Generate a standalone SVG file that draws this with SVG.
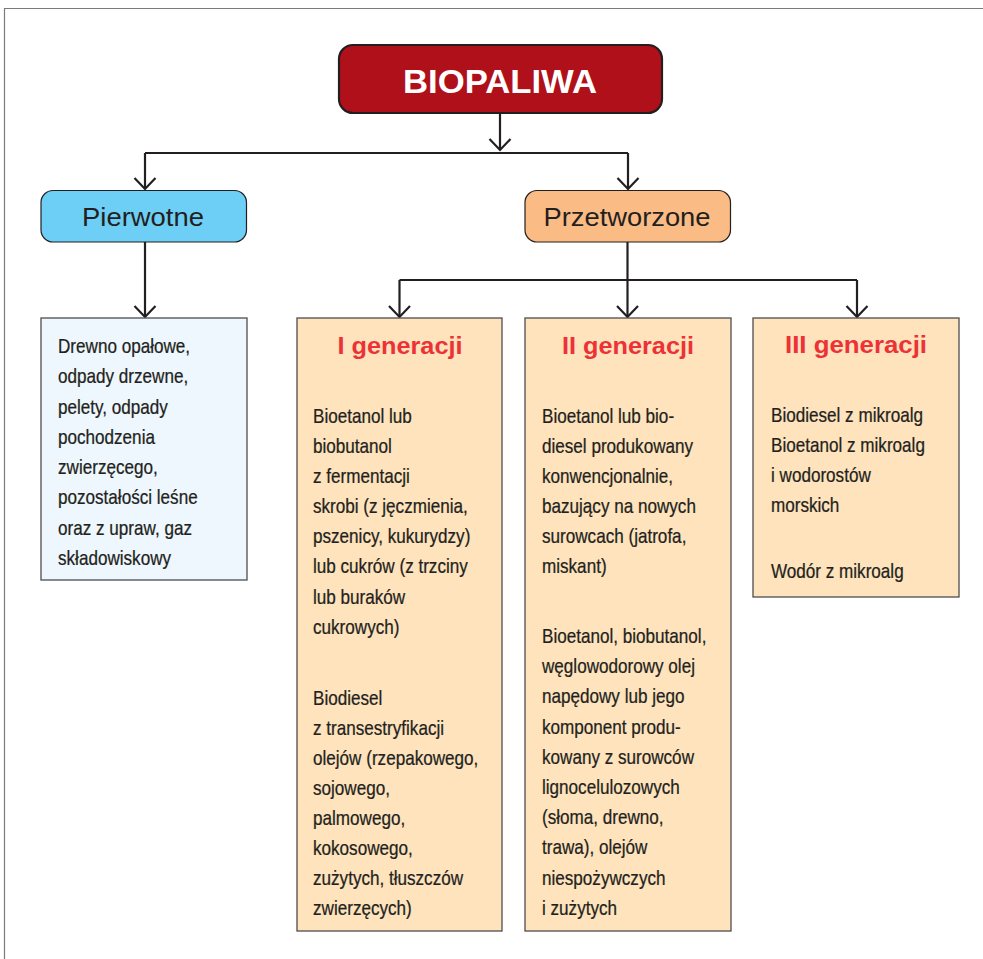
<svg xmlns="http://www.w3.org/2000/svg" width="983" height="959" viewBox="0 0 983 959">
<style>
.t{font-family:"Liberation Sans",Arial,sans-serif;font-size:20.6px;fill:#231f20;stroke:#231f20;stroke-width:0.25}
.h{font-family:"Liberation Sans",Arial,sans-serif;font-size:23px;font-weight:bold;fill:#ed3237;text-anchor:middle}
.gen{fill:#fee3bc;stroke:#4d4d4f;stroke-width:1.3}
.c{fill:none;stroke:#231f20;stroke-width:2.2}
</style>
<defs>
<marker id="arr" markerUnits="userSpaceOnUse" markerWidth="30" markerHeight="30" viewBox="-15 -15 30 30" refX="0" refY="0" orient="auto" overflow="visible">
<path d="M-11,-10.5 L0,0 L-11,10.5" fill="none" stroke="#231f20" stroke-width="2.2"/>
</marker>
</defs>
<rect width="983" height="959" fill="#ffffff"/>
<path d="M4.5,959 V8.5 H983" fill="none" stroke="#7a7a7c" stroke-width="1.2"/>

<g id="connectors">
<path class="c" d="M500,113 V150" marker-end="url(#arr)"/>
<path class="c" d="M145,153 H628"/>
<path class="c" d="M145,153 V189" marker-end="url(#arr)"/>
<path class="c" d="M628,153 V189" marker-end="url(#arr)"/>
<path class="c" d="M145,242 V317" marker-end="url(#arr)"/>
<path class="c" d="M627.5,242 V317" marker-end="url(#arr)"/>
<path class="c" d="M399.5,280 H857"/>
<path class="c" d="M399.5,280 V317" marker-end="url(#arr)"/>
<path class="c" d="M857,280 V317" marker-end="url(#arr)"/>
</g>

<g id="biopaliwa">
<rect x="339" y="45" width="323" height="68" rx="14" fill="#b0101a" stroke="#231f20" stroke-width="2.2"/>
<text x="500" y="92.5" font-family="Liberation Sans,Arial,sans-serif" font-size="34" font-weight="bold" fill="#ffffff" text-anchor="middle" textLength="194" lengthAdjust="spacingAndGlyphs">BIOPALIWA</text>
</g>

<g id="pierwotne">
<rect x="41" y="190.5" width="205.5" height="51.5" rx="12" fill="#6dcff6" stroke="#231f20" stroke-width="1.2"/>
<text x="143" y="226" font-family="Liberation Sans,Arial,sans-serif" font-size="26" fill="#231f20" text-anchor="middle" textLength="122" lengthAdjust="spacingAndGlyphs">Pierwotne</text>
</g>

<g id="przetworzone">
<rect x="525" y="190.5" width="205.5" height="51.5" rx="12" fill="#fbbb84" stroke="#231f20" stroke-width="1.2"/>
<text x="627" y="226" font-family="Liberation Sans,Arial,sans-serif" font-size="26" fill="#231f20" text-anchor="middle" textLength="167" lengthAdjust="spacingAndGlyphs">Przetworzone</text>
</g>

<g id="pierwotne-lista">
<rect x="41" y="318" width="206" height="262" fill="#eef7fd" stroke="#4d4d4f" stroke-width="1.3"/>
<g transform="translate(58,0) scale(0.83,1)">
<text class="t">
<tspan x="0" y="353">Drewno opałowe,</tspan>
<tspan x="0" y="383.3">odpady drzewne,</tspan>
<tspan x="0" y="413.6">pelety, odpady</tspan>
<tspan x="0" y="443.9">pochodzenia</tspan>
<tspan x="0" y="474.2">zwierzęcego,</tspan>
<tspan x="0" y="504.5">pozostałości leśne</tspan>
<tspan x="0" y="534.8">oraz z upraw, gaz</tspan>
<tspan x="0" y="565.1">składowiskowy</tspan>
</text>
</g>
</g>

<g id="generacja-1">
<rect class="gen" x="297" y="318" width="205" height="613"/>
<text class="h" x="400" y="354" textLength="125" lengthAdjust="spacingAndGlyphs">I generacji</text>
<g transform="translate(313,0) scale(0.83,1)">
<text class="t">
<tspan x="0" y="423">Bioetanol lub</tspan>
<tspan x="0" y="453.1">biobutanol</tspan>
<tspan x="0" y="483.2">z fermentacji</tspan>
<tspan x="0" y="513.3">skrobi (z jęczmienia,</tspan>
<tspan x="0" y="543.4">pszenicy, kukurydzy)</tspan>
<tspan x="0" y="573.5">lub cukrów (z trzciny</tspan>
<tspan x="0" y="603.6">lub buraków</tspan>
<tspan x="0" y="633.7">cukrowych)</tspan>
<tspan x="0" y="705">Biodiesel</tspan>
<tspan x="0" y="735">z transestryfikacji</tspan>
<tspan x="0" y="765">olejów (rzepakowego,</tspan>
<tspan x="0" y="795">sojowego,</tspan>
<tspan x="0" y="825">palmowego,</tspan>
<tspan x="0" y="855">kokosowego,</tspan>
<tspan x="0" y="885">zużytych, tłuszczów</tspan>
<tspan x="0" y="915">zwierzęcych)</tspan>
</text>
</g>
</g>

<g id="generacja-2">
<rect class="gen" x="525" y="318" width="206" height="613"/>
<text class="h" x="628" y="354" textLength="132" lengthAdjust="spacingAndGlyphs">II generacji</text>
<g transform="translate(542,0) scale(0.83,1)">
<text class="t">
<tspan x="0" y="423">Bioetanol lub bio-</tspan>
<tspan x="0" y="453">diesel produkowany</tspan>
<tspan x="0" y="483">konwencjonalnie,</tspan>
<tspan x="0" y="513">bazujący na nowych</tspan>
<tspan x="0" y="543">surowcach (jatrofa,</tspan>
<tspan x="0" y="573">miskant)</tspan>
<tspan x="0" y="643">Bioetanol, biobutanol,</tspan>
<tspan x="0" y="673.2">węglowodorowy olej</tspan>
<tspan x="0" y="703.4">napędowy lub jego</tspan>
<tspan x="0" y="733.6">komponent produ-</tspan>
<tspan x="0" y="763.8">kowany z surowców</tspan>
<tspan x="0" y="794">lignocelulozowych</tspan>
<tspan x="0" y="824.2">(słoma, drewno,</tspan>
<tspan x="0" y="854.4">trawa), olejów</tspan>
<tspan x="0" y="884.6">niespożywczych</tspan>
<tspan x="0" y="914.8">i zużytych</tspan>
</text>
</g>
</g>

<g id="generacja-3">
<rect class="gen" x="753" y="318" width="206" height="279"/>
<text class="h" x="856" y="353" textLength="142" lengthAdjust="spacingAndGlyphs">III generacji</text>
<g transform="translate(771,0) scale(0.83,1)">
<text class="t">
<tspan x="0" y="422">Biodiesel z mikroalg</tspan>
<tspan x="0" y="452">Bioetanol z mikroalg</tspan>
<tspan x="0" y="482">i wodorostów</tspan>
<tspan x="0" y="512">morskich</tspan>
<tspan x="0" y="578">Wodór z mikroalg</tspan>
</text>
</g>
</g>
</svg>
